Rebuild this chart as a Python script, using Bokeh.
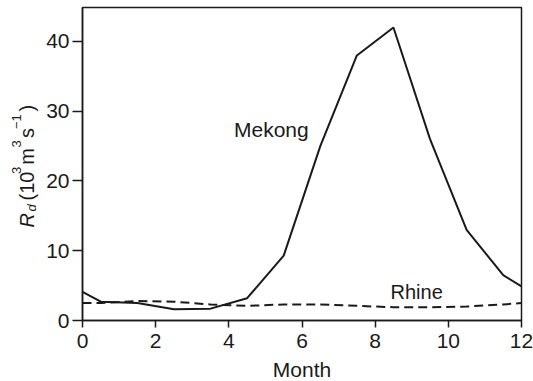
from bokeh.plotting import figure
from bokeh.layouts import row, column
from bokeh.models import Range1d, FixedTicker
from bokeh.core.properties import value
from bokeh.embed import file_html
from bokeh.resources import INLINE
import math

# Data (monthly discharge, 10^3 m^3/s)
months = [0, 0.5, 1.5, 2.5, 3.5, 4.5, 5.5, 6.5, 7.5, 8.5, 9.5, 10.5, 11.5, 12]
mekong = [4.1, 2.7, 2.5, 1.6, 1.7, 3.2, 9.3, 25.0, 38.0, 42.0, 26.0, 13.0, 6.5, 4.9]
rhine = [2.5, 2.5, 2.8, 2.7, 2.3, 2.1, 2.3, 2.3, 2.1, 1.9, 1.9, 2.0, 2.3, 2.5]
x_ticks = [0, 2, 4, 6, 8, 10, 12]
y_ticks = [0, 10, 20, 30, 40]

FONT = "Liberation Sans"
INK = "#1a1a1a"
W = 533
TOP = 7
FRAME_BOTTOM = 320
TOP_H = 357            # height of the main row
BOT_H = 381 - TOP_H    # strip holding the x-axis title
LABEL_W = 40
Y_END = 44.87

yr = Range1d(0, Y_END)
ppu = (FRAME_BOTTOM - TOP) / Y_END


def scr_to_y(sy):
    return (FRAME_BOTTOM - sy) / ppu


p = figure(width=W - LABEL_W, height=TOP_H, output_backend="svg", toolbar_location=None,
           x_range=Range1d(0, 12), y_range=yr,
           min_border_left=82 - LABEL_W, min_border_right=12, min_border_top=TOP,
           min_border_bottom=TOP_H - FRAME_BOTTOM)

p.grid.visible = False
p.outline_line_color = INK
p.outline_line_width = 1.5
p.background_fill_color = "white"
p.border_fill_color = "white"

for ax in (p.xaxis[0], p.yaxis[0]):
    ax.axis_line_color = INK
    ax.axis_line_width = 1.5
    ax.major_tick_line_color = INK
    ax.major_tick_line_width = 1.5
    ax.minor_tick_line_color = None
    ax.major_tick_in = 0
    ax.major_label_text_font = FONT
    ax.major_label_text_font_size = "21px"
    ax.major_label_text_color = INK

p.xaxis.ticker = FixedTicker(ticks=x_ticks)
p.yaxis.ticker = FixedTicker(ticks=y_ticks)
p.xaxis.major_tick_out = 7
p.yaxis.major_tick_out = 10
p.xaxis.major_label_standoff = 6
p.yaxis.major_label_standoff = 3

p.line(months, mekong, line_color=INK, line_width=2)
p.line(months, rhine, line_color=INK, line_width=2, line_dash="9 5")

p.text(x=[4.14], y=[scr_to_y(129.2)], text=["Mekong"], text_font=value(FONT),
       text_font_size="21px", text_color=INK, text_baseline="middle")
p.text(x=[8.42], y=[scr_to_y(291.2)], text=["Rhine"], text_font=value(FONT),
       text_font_size="20px", text_color=INK, text_baseline="middle")

# Narrow companion panel holding the rotated y-axis title (sub/superscripts)
lab = figure(width=LABEL_W, height=TOP_H, output_backend="svg", toolbar_location=None,
             x_range=Range1d(0, LABEL_W), y_range=yr,
             x_axis_type=None, y_axis_type=None,
             min_border_left=0, min_border_right=0, min_border_top=TOP,
             min_border_bottom=TOP_H - FRAME_BOTTOM)
lab.grid.visible = False
lab.outline_line_color = None
lab.background_fill_color = "white"
lab.border_fill_color = "white"

# (text, font px, style, centre-line x in px, start position in screen px)
pieces = [
    ("R", 20, "italic", 26.3, 227.0),
    ("d", 13, "italic", 30.5, 211.0),
    ("(10", 20, "normal", 26.3, 200.0),
    ("3", 13, "normal", 15.5, 173.5),
    ("m", 20, "normal", 26.3, 164.3),
    ("3", 13, "normal", 15.5, 147.0),
    ("s", 20, "normal", 26.3, 137.5),
    ("\u22121", 13, "normal", 15.5, 128.5),
    (")", 20, "normal", 26.3, 111.0),
]
for txt, size, style, cx, sy in pieces:
    lab.text(x=[cx], y=[scr_to_y(sy)], text=[txt],
             angle=math.pi / 2, text_font=value(FONT),
             text_font_size=f"{size}px", text_font_style=style,
             text_color=INK, text_baseline="middle", text_align="left")

# Bottom strip with the x-axis title
bot = figure(width=W, height=BOT_H, output_backend="svg", toolbar_location=None,
             x_range=Range1d(0, W), y_range=Range1d(0, BOT_H),
             x_axis_type=None, y_axis_type=None,
             min_border_left=0, min_border_right=0, min_border_top=0,
             min_border_bottom=0)
bot.grid.visible = False
bot.outline_line_color = None
bot.background_fill_color = "white"
bot.border_fill_color = "white"
bot.text(x=[301.5], y=[BOT_H - (369.0 - TOP_H)], text=["Month"], text_font=value(FONT),
         text_font_size="21px", text_color=INK, text_baseline="middle",
         text_align="center")

layout = column(row(lab, p), bot)
open("out.html", "w").write(file_html(layout, INLINE))
